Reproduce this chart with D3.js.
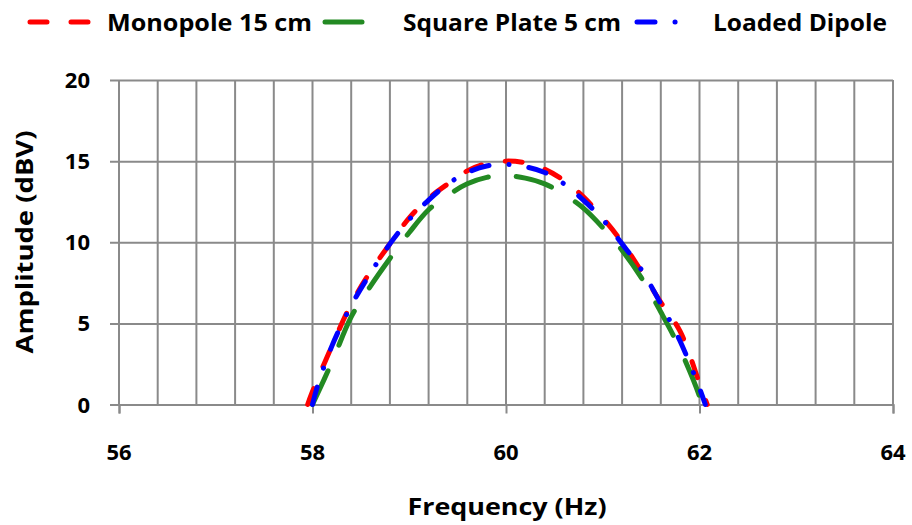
<!DOCTYPE html>
<html>
<head>
<meta charset="utf-8">
<script src="https://cdn.jsdelivr.net/npm/d3@7"></script>
<style>
  body { margin: 0; background: #fff; }
  text { font-family: "Open Sans", Lato, sans-serif; font-weight: bold; fill: #000; }
</style>
</head>
<body>
<div id="chart"></div>
<script>
// series values
var monopoleFreq = [57.95, 58.0, 58.2, 58.4, 58.6, 58.8, 59.0, 59.2, 59.4, 59.6, 59.8, 60.0, 60.2, 60.4, 60.6, 60.8, 61.0, 61.2, 61.4, 61.6, 61.8, 62.0, 62.08];
var monopoleAmp  = [0, 0.8, 3.6, 6.2, 8.2, 9.9, 11.5, 12.7, 13.6, 14.4, 14.85, 15.0, 14.9, 14.5, 13.8, 12.8, 11.5, 10.0, 8.2, 6.3, 4.5, 1.3, 0];

var plateFreq = [58.0, 58.2, 58.4, 58.6, 58.8, 59.0, 59.2, 59.4, 59.6, 59.8, 60.0, 60.2, 60.4, 60.6, 60.8, 61.0, 61.2, 61.4, 61.6, 61.8, 62.0, 62.02];
var plateAmp  = [0, 2.6, 5.4, 7.3, 9.0, 10.6, 12.0, 12.9, 13.6, 14.0, 14.1, 13.95, 13.6, 12.95, 12.1, 10.9, 9.5, 7.8, 5.7, 3.4, 0.5, 0];

var dipoleFreq = [58.0, 58.05, 58.2, 58.4, 58.6, 58.8, 59.0, 59.2, 59.4, 59.6, 59.8, 60.0, 60.2, 60.4, 60.6, 60.8, 61.0, 61.2, 61.4, 61.6, 61.8, 62.0, 62.06];
var dipoleAmp  = [0, 1.1, 3.6, 6.1, 8.1, 9.9, 11.4, 12.6, 13.6, 14.3, 14.7, 14.8, 14.65, 14.3, 13.6, 12.6, 11.4, 9.9, 8.3, 6.2, 3.9, 1.0, 0];

var seriesNames = ["Monopole 15 cm", "Square Plate 5 cm", "Loaded Dipole"];
var xTicks = [56, 58, 60, 62, 64];
var yTicks = [0, 5, 10, 15, 20];

var svg_Width = 912;
var svg_Height = 525;
var margin = { top: 80, right: 19, bottom: 120.5, left: 119 };
var chart_Width = svg_Width - margin.left - margin.right;
var chart_Height = svg_Height - margin.top - margin.bottom;

var svg = d3.select("#chart")
    .append("svg")
    .attr("width", svg_Width)
    .attr("height", svg_Height);

var chartGroup = svg.append("g")
    .attr("transform", "translate(" + margin.left + "," + margin.top + ")");

var xLinearScale = d3.scaleLinear().domain([56, 64]).range([0, chart_Width]);
var yLinearScale = d3.scaleLinear().domain([0, 20]).range([chart_Height, 0]);

var gridColor = "#8a8a8a";

// vertical grid every 0.4 Hz
var xGrid = d3.range(0, 21).map(function(i) { return 56 + i * 0.4; });
chartGroup.append("g")
    .selectAll("line")
    .data(xGrid)
    .enter()
    .append("line")
    .attr("x1", function(d) { return xLinearScale(d); })
    .attr("x2", function(d) { return xLinearScale(d); })
    .attr("y1", 0)
    .attr("y2", chart_Height)
    .attr("stroke", gridColor)
    .attr("stroke-width", 2);

// left axis: horizontal gridlines + outward ticks
var leftAxis = d3.axisLeft(yLinearScale)
    .tickValues(yTicks)
    .tickSize(-chart_Width - 9)
    .tickPadding(0)
    .tickFormat("");
chartGroup.append("g")
    .attr("transform", "translate(-9,0)")
    .call(leftAxis)
    .call(function(g) {
        g.select(".domain").remove();
        g.selectAll(".tick line").attr("stroke", gridColor).attr("stroke-width", 2).attr("x1", 0).attr("x2", chart_Width + 9);
    });

chartGroup.append("line")
    .attr("x1", 0).attr("x2", 0)
    .attr("y1", 0).attr("y2", chart_Height)
    .attr("stroke", gridColor)
    .attr("stroke-width", 2);

// bottom axis ticks
var bottomAxis = d3.axisBottom(xLinearScale)
    .tickValues(xTicks)
    .tickSize(9)
    .tickFormat("");
chartGroup.append("g")
    .attr("transform", "translate(0," + chart_Height + ")")
    .call(bottomAxis)
    .call(function(g) {
        g.select(".domain").attr("stroke", gridColor).attr("stroke-width", 2);
        g.selectAll(".tick line").attr("stroke", gridColor).attr("stroke-width", 2);
    });

// tick labels
chartGroup.append("g")
    .selectAll("text")
    .data(yTicks)
    .enter()
    .append("text")
    .attr("x", -29)
    .attr("y", function(d) { return yLinearScale(d) + 8; })
    .attr("text-anchor", "end")
    .attr("font-size", "22px")
    .text(function(d) { return d; });

chartGroup.append("g")
    .selectAll("text")
    .data(xTicks)
    .enter()
    .append("text")
    .attr("x", function(d) { return xLinearScale(d); })
    .attr("y", chart_Height + 55.5)
    .attr("text-anchor", "middle")
    .attr("font-size", "22px")
    .text(function(d) { return d; });

// axis titles
svg.append("text")
    .attr("x", 507)
    .attr("y", 515)
    .attr("text-anchor", "middle")
    .attr("font-size", "24px")
    .attr("textLength", 199)
    .attr("lengthAdjust", "spacingAndGlyphs")
    .text("Frequency (Hz)");

svg.append("text")
    .attr("transform", "translate(33,242) rotate(-90)")
    .attr("text-anchor", "middle")
    .attr("font-size", "24px")
    .attr("textLength", 223)
    .attr("lengthAdjust", "spacingAndGlyphs")
    .text("Amplitude (dBV)");

// series
var series = [
    { name: seriesNames[0], freq: monopoleFreq, amp: monopoleAmp, color: "#ff0000", dash: "17,24" },
    { name: seriesNames[1], freq: plateFreq, amp: plateAmp, color: "#238a23", dash: "37,28" },
    { name: seriesNames[2], freq: dipoleFreq, amp: dipoleAmp, color: "#0000ff", dash: "18,20,0.1,20" }
];

var line = d3.line()
    .x(function(d) { return xLinearScale(d[0]); })
    .y(function(d) { return yLinearScale(d[1]); })
    .curve(d3.curveCatmullRom);

series.forEach(function(s) {
    var pts = s.freq.map(function(f, i) { return [f, s.amp[i]]; });
    chartGroup.append("path")
        .datum(pts)
        .attr("d", line)
        .attr("fill", "none")
        .attr("stroke", s.color)
        .attr("stroke-width", 5)
        .attr("stroke-linecap", "round")
        .attr("stroke-dasharray", s.dash);
});

// legend
var legendItems = [
    { x1: 30, x2: 91, tx: 107, w: 205 },
    { x1: 325, x2: 370, tx: 403, w: 218 },
    { x1: 637, x2: 682, tx: 713, w: 174 }
];
var legend = svg.append("g");
series.forEach(function(s, i) {
    var it = legendItems[i];
    legend.append("line")
        .attr("x1", it.x1).attr("x2", it.x2)
        .attr("y1", 22).attr("y2", 22)
        .attr("stroke", s.color)
        .attr("stroke-width", 5)
        .attr("stroke-linecap", "round")
        .attr("stroke-dasharray", s.dash);
    legend.append("text")
        .attr("x", it.tx)
        .attr("y", 31)
        .attr("font-size", "24px")
        .attr("textLength", it.w)
        .attr("lengthAdjust", "spacingAndGlyphs")
        .text(s.name);
});
</script>
</body>
</html>
